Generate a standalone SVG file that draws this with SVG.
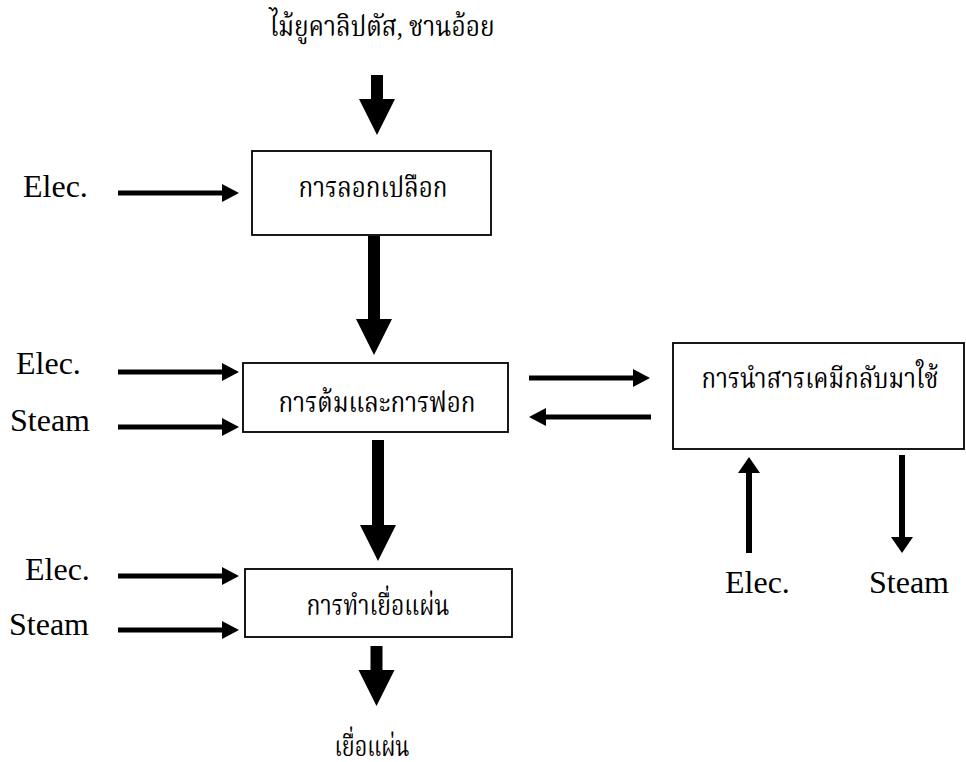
<svg xmlns="http://www.w3.org/2000/svg" width="966" height="762" viewBox="0 0 966 762">
<style>
  .box { fill: #fff; stroke: #000; stroke-width: 1.8; }
  .en { font-family: "Liberation Serif", "Times New Roman", serif; font-size: 32px; fill: #000; }
  .th { font-family: "Liberation Serif", "Noto Serif Thai", "Noto Sans Thai", "DejaVu Sans", serif; font-size: 28px; fill: #000; text-anchor: middle; }
  .thin { stroke: #000; stroke-width: 5; fill: none; marker-end: url(#hThin); }
  .vthin { stroke: #000; stroke-width: 6; fill: none; marker-end: url(#hV); }
  .thick { stroke: #000; stroke-width: 12; fill: none; marker-end: url(#hThick); }
</style>
<defs>
  <marker id="hThin" markerUnits="userSpaceOnUse" markerWidth="17" markerHeight="18" refX="0" refY="9" orient="auto" overflow="visible">
    <path d="M0,0 L17,9 L0,18 Z" fill="#000"/>
  </marker>
  <marker id="hV" markerUnits="userSpaceOnUse" markerWidth="16" markerHeight="22" refX="0" refY="11" orient="auto" overflow="visible">
    <path d="M0,0 L16,11 L0,22 Z" fill="#000"/>
  </marker>
  <marker id="hThick" markerUnits="userSpaceOnUse" markerWidth="36" markerHeight="36" refX="0" refY="18" orient="auto" overflow="visible">
    <path d="M0,0 L36,18 L0,36 Z" fill="#000"/>
  </marker>
</defs>
<rect width="966" height="762" fill="#fff"/>

<g id="connectors">
  <line class="thick" x1="377" y1="75" x2="377" y2="99"/>
  <line class="thick" x1="374" y1="236" x2="374" y2="319"/>
  <line class="thick" x1="378" y1="440" x2="378" y2="525"/>
  <line class="thick" x1="376.5" y1="646" x2="376.5" y2="670"/>
  <line class="thin" x1="118" y1="193" x2="222" y2="193"/>
  <line class="thin" x1="118" y1="372" x2="222" y2="372"/>
  <line class="thin" x1="118" y1="427" x2="222" y2="427"/>
  <line class="thin" x1="118" y1="576" x2="222" y2="576"/>
  <line class="thin" x1="118" y1="630" x2="222" y2="630"/>
  <line class="thin" x1="529" y1="378" x2="633" y2="378"/>
  <line class="thin" x1="651" y1="417" x2="546" y2="417"/>
  <line class="vthin" x1="749" y1="553" x2="749" y2="473"/>
  <line class="vthin" x1="902" y1="455" x2="902" y2="537"/>
</g>

<g id="input">
  <text class="th" x="382" y="36" textLength="225" lengthAdjust="spacingAndGlyphs">ไม้ยูคาลิปตัส, ชานอ้อย</text>
</g>
<g id="debarking">
  <rect class="box" x="252" y="151" width="239" height="84"/>
  <text class="th" x="373" y="197" textLength="149" lengthAdjust="spacingAndGlyphs">การลอกเปลือก</text>
</g>
<g id="cooking">
  <rect class="box" x="243" y="363" width="265" height="69"/>
  <text class="th" x="377" y="412" textLength="197" lengthAdjust="spacingAndGlyphs">การต้มและการฟอก</text>
</g>
<g id="sheet">
  <rect class="box" x="245" y="569" width="267" height="68"/>
  <text class="th" x="378" y="615" textLength="143" lengthAdjust="spacingAndGlyphs">การทำเยื่อแผ่น</text>
</g>
<g id="recovery">
  <rect class="box" x="673" y="343" width="291" height="106"/>
  <text class="th" x="820" y="388" textLength="237" lengthAdjust="spacingAndGlyphs">การนำสารเคมีกลับมาใช้</text>
</g>
<g id="output">
  <text class="th" x="372" y="756" textLength="75" lengthAdjust="spacingAndGlyphs">เยื่อแผ่น</text>
</g>
<g id="labels">
  <text class="en" x="23" y="197">Elec.</text>
  <text class="en" x="16" y="374">Elec.</text>
  <text class="en" x="10" y="431">Steam</text>
  <text class="en" x="25" y="580">Elec.</text>
  <text class="en" x="9" y="635">Steam</text>
  <text class="en" x="725" y="593">Elec.</text>
  <text class="en" x="869" y="593">Steam</text>
</g>
</svg>
